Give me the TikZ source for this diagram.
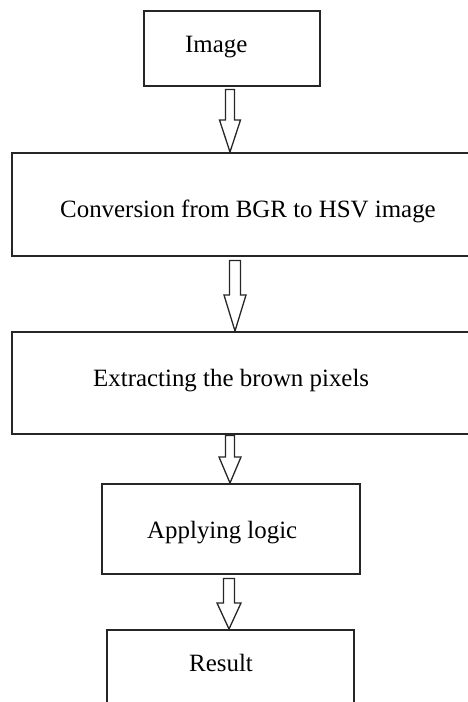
\documentclass[tikz,border=0pt]{standalone}
\usepackage{fontspec}
\setmainfont{Liberation Serif}
\usetikzlibrary{calc}
\tikzset{
  boxline/.style={draw=black!85, line width=1.5pt},
  blk/.style={draw=black!85, line width=1.3pt, line join=miter, fill=white},
  lbl/.style={anchor=base west, inner sep=0pt, font=\fontsize{24.9}{30}\selectfont, text=black},
}
% #1 x, #2 from node, #3 to node, #4 shaft half width, #5 head half width, #6 head length, #7 gap below source
\newcommand{\blockarrow}[7]{%
  \draw[blk] ($(#1,0 |- #2.south)+(-#4,#7)$) -- ($(#1,0 |- #3.north)+(-#4,-#6)$)
    -- ($(#1,0 |- #3.north)+(-#5,-#6)$) -- (#1,0 |- #3.north)
    -- ($(#1,0 |- #3.north)+(#5,-#6)$) -- ($(#1,0 |- #3.north)+(#4,-#6)$)
    -- ($(#1,0 |- #2.south)+(#4,#7)$) -- cycle;}
\begin{document}
\begin{tikzpicture}[x=1pt,y=-1pt]
\useasboundingbox (0,0) rectangle (468,702);
\clip (0,0) rectangle (468,702);
% boxes
\node[boxline, anchor=north west, minimum width=176pt, minimum height=75pt, inner sep=0pt] (b1) at (143,10) {};
\node[boxline, anchor=north west, minimum width=470pt, minimum height=103pt, inner sep=0pt] (b2) at (11,152) {};
\node[boxline, anchor=north west, minimum width=470pt, minimum height=102pt, inner sep=0pt] (b3) at (11,331) {};
\node[boxline, anchor=north west, minimum width=258pt, minimum height=90pt, inner sep=0pt] (b4) at (101,483) {};
\node[boxline, anchor=north west, minimum width=247pt, minimum height=100pt, inner sep=0pt] (b5) at (106,629) {};
% labels
\node[lbl] (t1) at (185,52) {Image};
\node[lbl] (t2) at (60,217) {Conversion from BGR to HSV image};
\node[lbl] (t3) at (93,386) {Extracting the brown pixels};
\node[lbl] (t4) at (147,538) {Applying logic};
\node[lbl] (t5) at (189,671) {Result};
% block arrows
\blockarrow{230}{b1}{b2}{4.5}{10.5}{32}{3}
\blockarrow{235}{b2}{b3}{5.5}{11}{36}{4}
\blockarrow{230}{b3}{b4}{4.5}{11}{26}{1}
\blockarrow{229}{b4}{b5}{5.5}{12}{26}{4}
\end{tikzpicture}
\end{document}
